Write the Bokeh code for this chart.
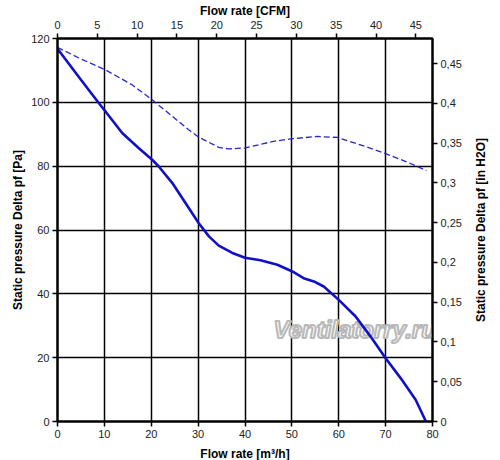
from bokeh.plotting import figure
from bokeh.layouts import row
from bokeh.models import Range1d, LinearAxis, FixedTicker, Label, Title
from bokeh.embed import file_html
from bokeh.resources import INLINE

# Flow rate [m3/h] vs static pressure [Pa]
solid_x = [0, 5, 8.8, 10.2, 13.8, 17.3, 20.2, 21.6, 24.5, 26.6, 28.7, 30.1, 32.3, 34.4, 37.3, 40,
           43.3, 46.9, 50.1, 52.5, 54.7, 56.8, 60, 63.6, 66.8, 70, 73.2, 76.4, 78.6]
solid_y = [116.8, 107.1, 99.8, 97.2, 90.4, 85.7, 82.0, 79.9, 74.7, 70, 65.3, 62.2, 58, 55.1, 52.8, 51.3,
           50.5, 49.1, 47, 44.9, 43.9, 42.3, 38.1, 32.9, 26.6, 19.8, 13.6, 6.8, 0]

dash_x = [0, 5, 10.2, 15.9, 20.2, 24.5, 28, 30.1, 34.4, 36.5, 40, 46.1, 50.1, 55.4, 59.7, 64.6,
          70, 74.6, 78.7]
dash_y = [117.2, 113.6, 110.2, 105.5, 100.8, 95.6, 91.4, 89.1, 85.9, 85.4, 85.7, 87.8, 88.6, 89.3,
          89.0, 86.7, 83.9, 81.3, 78.6]

x_ticks = [0, 10, 20, 30, 40, 50, 60, 70, 80]
y_ticks = [0, 20, 40, 60, 80, 100, 120]
cfm_ticks = [0, 5, 10, 15, 20, 25, 30, 35, 40, 45]
inh2o_ticks = [0, 0.05, 0.1, 0.15, 0.2, 0.25, 0.3, 0.35, 0.4, 0.45]
inh2o_labels = ["0", "0,05", "0,1", "0,15", "0,2", "0,25", "0,3", "0,35", "0,4", "0,45"]

M3H_PER_CFM = 1.699
PA_PER_INH2O = 249.09
X_MAX = 80
Y_MAX = 120

FONT = "Liberation Sans"
TOP, BOTTOM = 37, 40

p = figure(frame_width=375, frame_height=383, output_backend="svg", toolbar_location=None,
           x_range=Range1d(0, X_MAX), y_range=Range1d(0, Y_MAX),
           min_border_left=57, min_border_right=39, min_border_top=TOP, min_border_bottom=BOTTOM,
           background_fill_color="white", border_fill_color="white")

p.extra_x_ranges = {"cfm": Range1d(0, X_MAX / M3H_PER_CFM)}
p.extra_y_ranges = {"inh2o": Range1d(0, Y_MAX / PA_PER_INH2O)}

p.outline_line_color = "black"
p.outline_line_width = 2

def style_axis(ax, label):
    ax.axis_label = label
    ax.axis_label_text_font = FONT
    ax.axis_label_text_font_style = "bold"
    ax.axis_label_text_font_size = "12px"
    ax.axis_label_text_color = "black"
    ax.axis_label_standoff = 3
    ax.major_label_text_font = FONT
    ax.major_label_text_font_size = "11px"
    ax.major_label_text_color = "#222222"
    ax.major_label_standoff = 3
    ax.axis_line_color = "black"
    ax.axis_line_width = 2
    ax.major_tick_line_color = "black"
    ax.major_tick_line_width = 1.5
    ax.major_tick_out = 5
    ax.major_tick_in = 0
    ax.minor_tick_line_color = None

xa = p.xaxis[0]
xa.ticker = FixedTicker(ticks=x_ticks)
style_axis(xa, "Flow rate [m³/h]")
xa.axis_label_standoff = 6

ya = p.yaxis[0]
ya.ticker = FixedTicker(ticks=y_ticks)
style_axis(ya, "Static pressure Delta pf [Pa]")

top = LinearAxis(x_range_name="cfm", ticker=FixedTicker(ticks=cfm_ticks))
style_axis(top, "Flow rate [CFM]")
top.axis_label_standoff = 0
top.major_label_standoff = 5
p.add_layout(top, "above")

right = LinearAxis(y_range_name="inh2o", ticker=FixedTicker(ticks=inh2o_ticks))
right.major_label_overrides = {t: l for t, l in zip(inh2o_ticks, inh2o_labels)}
style_axis(right, "")
p.add_layout(right, "right")

p.xgrid.ticker = FixedTicker(ticks=x_ticks)
p.ygrid.ticker = FixedTicker(ticks=y_ticks)
for g in (p.xgrid[0], p.ygrid[0]):
    g.grid_line_color = "black"
    g.grid_line_width = 1.5
    g.grid_line_alpha = 1.0

wm = Label(x=63.4, y=28.8, text="Ventilatorry.ru", text_font=FONT, text_font_size="24px",
           text_font_style="bold italic", text_color="white",
           text_align="center", text_baseline="middle", level="underlay")
try:
    wm.text_outline_color = "#b8b8b8"
except Exception:
    wm.text_color = "#d8d8d8"
p.add_layout(wm)

p.line(dash_x, dash_y, line_color="#2828c8", line_width=1.3, line_dash="6 3")
p.line(solid_x, solid_y, line_color="#1010c8", line_width=2.6)

# narrow companion figure carrying the right-hand axis title (reads bottom-to-top)
p2 = figure(width=22, frame_height=383, output_backend="svg", toolbar_location=None,
            x_axis_location=None, y_axis_location=None,
            min_border_left=0, min_border_right=0, min_border_top=TOP, min_border_bottom=BOTTOM,
            background_fill_color="white", border_fill_color="white")
p2.outline_line_color = None
p2.grid.visible = False
t2 = Title(text="Static pressure Delta pf [in H2O]", align="center", text_font=FONT,
           text_font_style="bold", text_font_size="12px", text_color="black",
           standoff=0, offset=0)
p2.add_layout(t2, "left")

layout = row(p, p2)
open("out.html", "w").write(file_html(layout, INLINE))
